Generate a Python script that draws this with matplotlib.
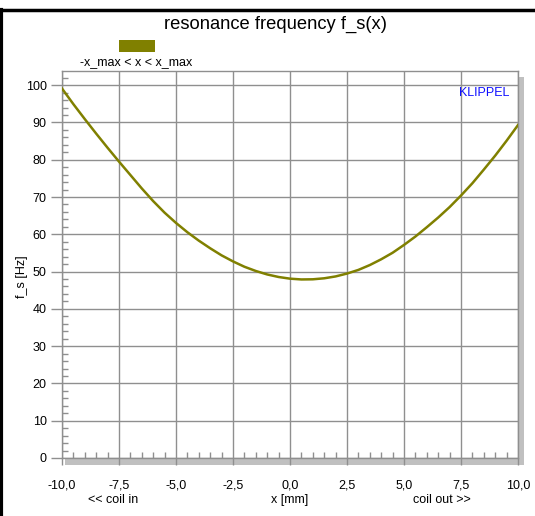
import matplotlib
matplotlib.use("Agg")
import matplotlib.pyplot as plt
from matplotlib.patches import Rectangle
from matplotlib.lines import Line2D
from matplotlib.ticker import MultipleLocator, FixedLocator

plt.rcParams['font.family'] = ['Liberation Sans', 'DejaVu Sans']

# ---- data ----
x_mm = [-10, -9.5, -9, -8.5, -8, -7.5, -7, -6.5, -6, -5.5, -5, -4.5, -4, -3.5,
        -3, -2.5, -2, -1.5, -1, -0.5, 0, 0.5, 1, 1.5, 2, 2.5, 3, 3.5, 4, 4.5,
        5, 5.5, 6, 6.5, 7, 7.5, 8, 8.5, 9, 9.5, 10]
fs_hz = [99.1, 94.9, 90.9, 87.0, 83.2, 79.5, 75.9, 72.3, 68.9, 65.8, 63.05, 60.55,
         58.3, 56.25, 54.35, 52.73, 51.3, 50.16, 49.23, 48.55, 48.1, 47.89, 47.93,
         48.2, 48.7, 49.47, 50.45, 51.75, 53.3, 55.05, 57.15, 59.4, 61.9, 64.5,
         67.3, 70.4, 73.7, 77.35, 81.1, 85.1, 89.3]
x_ticks = [-10.0, -7.5, -5.0, -2.5, 0.0, 2.5, 5.0, 7.5, 10.0]
y_ticks = [0, 10, 20, 30, 40, 50, 60, 70, 80, 90, 100]
title = "resonance frequency f_s(x)"
legend_label = "-x_max < x < x_max"
curve_color = "#808000"

W, H = 535, 516
fig = plt.figure(figsize=(W / 100, H / 100), dpi=100)
fig.patch.set_facecolor("white")

def fx(px):
    return px / W

def fy(py):
    return 1 - py / H

# plot area in pixel coords
L, R, T, B = 62, 518, 71, 458

# shadow
fig.patches.append(Rectangle((fx(65), fy(465)), (524 - 65) / W, (465 - 77) / H,
                             transform=fig.transFigure, facecolor="#c0c0c0",
                             edgecolor="none", zorder=0))

ax = fig.add_axes([fx(L), fy(B), (R - L) / W, (B - T) / H], zorder=1)
ax.set_facecolor("white")
ax.plot(x_mm, fs_hz, color=curve_color, lw=1.8, zorder=3)

ax.set_xlim(-10, 10)
ax.set_ylim(0, 103.8)

ax.xaxis.set_major_locator(FixedLocator(x_ticks))
ax.yaxis.set_major_locator(FixedLocator(y_ticks))
ax.xaxis.set_minor_locator(MultipleLocator(0.5))
ax.yaxis.set_minor_locator(MultipleLocator(2))
ax.set_xticklabels([f"{v:.1f}".replace(".", ",") for v in x_ticks], fontsize=9)
ax.set_yticklabels([str(v) for v in y_ticks], fontsize=9)

gc = "#8f8f8f"
ax.grid(True, which="major", color=gc, lw=1.0, zorder=1)
for s in ax.spines.values():
    s.set_color(gc)
    s.set_linewidth(1.0)

ax.tick_params(axis="x", which="major", direction="out", length=5, color=gc, width=1, pad=10.5)
ax.tick_params(axis="x", which="minor", direction="in", length=4.5, color=gc, width=1)
ax.tick_params(axis="y", which="major", direction="out", length=8, color=gc, width=1, pad=3)
ax.tick_params(axis="y", which="minor", direction="in", length=4.5, color=gc, width=1)

# texts
fig.text(fx(276), fy(24), title, ha="center", va="center", fontsize=13.2)
fig.patches.append(Rectangle((fx(119), fy(52)), 36 / W, 12 / H,
                             transform=fig.transFigure, facecolor=curve_color,
                             edgecolor="none"))
fig.text(fx(136), fy(63), legend_label, ha="center", va="center", fontsize=9)
fig.text(fx(484.5), fy(93.5), "KLIPPEL", ha="center", va="center", fontsize=9, color="#1010ff")
fig.text(fx(113), fy(500), "<< coil in", ha="center", va="center", fontsize=9)
fig.text(fx(290), fy(500), "x [mm]", ha="center", va="center", fontsize=9)
fig.text(fx(442), fy(500), "coil out >>", ha="center", va="center", fontsize=9)
fig.text(fx(22), fy(277), "f_s [Hz]", ha="center", va="center", fontsize=9, rotation=90)

# black frame lines
fig.lines.append(Line2D([0, 1], [fy(10), fy(10)], transform=fig.transFigure,
                        color="black", lw=2.5))
fig.lines.append(Line2D([fx(1.5), fx(1.5)], [fy(10), 0], transform=fig.transFigure,
                        color="black", lw=3))

fig.savefig("out.png", dpi=100)
